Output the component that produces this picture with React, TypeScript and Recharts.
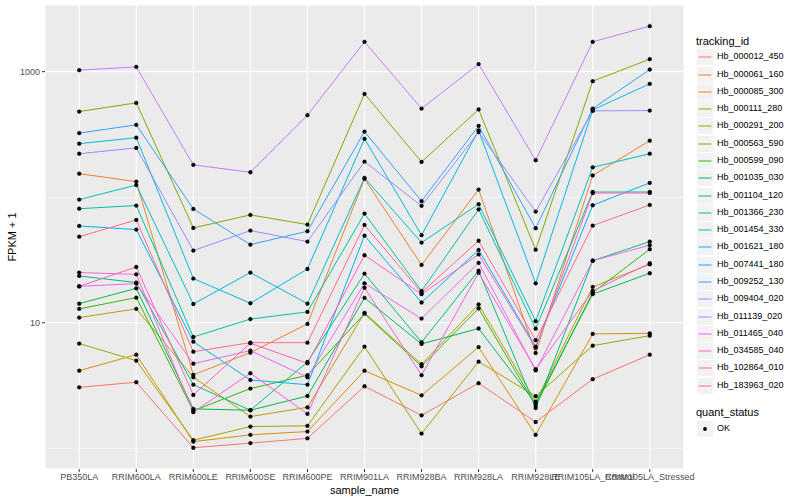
import { LineChart, Line, XAxis, YAxis, CartesianGrid, ReferenceLine } from 'recharts';

const samples = [
  'PB350LA', 'RRIM600LA', 'RRIM600LE', 'RRIM600SE', 'RRIM600PE', 'RRIM901LA',
  'RRIM928BA', 'RRIM928LA', 'RRIM928LE', 'RRIM105LA_Control', 'RRIM105LA_Stressed',
];

const trackingIds = [
  'Hb_000012_450', 'Hb_000061_160', 'Hb_000085_300', 'Hb_000111_280', 'Hb_000291_200',
  'Hb_000563_590', 'Hb_000599_090', 'Hb_001035_030', 'Hb_001104_120', 'Hb_001366_230',
  'Hb_001454_330', 'Hb_001621_180', 'Hb_007441_180', 'Hb_009252_130', 'Hb_009404_020',
  'Hb_011139_020', 'Hb_011465_040', 'Hb_034585_040', 'Hb_102864_010', 'Hb_183963_020',
];

const colors = [
  '#F8766D', '#EA8331', '#D89000', '#C09B00', '#A3A500', '#7CAE00', '#39B600', '#00BB4E',
  '#00BF7D', '#00C1A3', '#00BFC4', '#00BAE0', '#00B0F6', '#35A2FF', '#9590FF', '#C77CFF',
  '#E76BF3', '#FA62DB', '#FF62BC', '#FF6C91',
];

// FPKM + 1, one value per sample
const hb000012_450 = [3.06, 3.36, 1.01, 1.1, 1.2, 3.12, 1.83, 3.3, 1.62, 3.55, 5.57];
const hb000061_160 = [154, 133, 3.85, 5.78, 9.78, 140, 28.9, 115, 5.74, 149, 282];
const hb000085_300 = [4.15, 5.57, 1.13, 1.28, 1.36, 4.15, 2.64, 6.4, 1.28, 8.15, 8.24];
const hb000111_280 = [11.0, 12.9, 3.68, 1.79, 2.12, 12.0, 4.67, 14, 2.35, 19.3, 29.2];
const hb000291_200 = [6.83, 4.99, 1.16, 1.49, 1.51, 6.45, 1.31, 4.9, 2.6, 6.57, 7.89];
const hb000563_590 = [481, 564, 56.9, 72.3, 60.5, 665, 191, 500, 38.2, 840, 1258];
const hb000599_090 = [12.9, 15.85, 1.99, 2.99, 3.82, 11.8, 4.5, 13, 2.18, 17.4, 38.5];
const hb001035_030 = [14.2, 18.8, 2.06, 2.01, 2.61, 15.8, 6.78, 9, 2.28, 16.9, 24.8];
const hb001104_120 = [23.6, 20.9, 3.21, 2.01, 4.87, 24.6, 7.0, 26, 2.09, 31.2, 44.3];
const hb001366_230 = [81, 85.8, 7.7, 10.7, 12.2, 74, 17.9, 80, 8.97, 110, 110];
const hb001454_330 = [95.7, 125, 14.1, 25.1, 14.2, 142.5, 43.5, 88, 10.3, 173, 222];
const hb001621_180 = [267, 298, 22.5, 14.3, 26.8, 292, 49.8, 340, 20.6, 496, 800];
const hb007441_180 = [59, 55.2, 7.07, 3.5, 3.21, 49.4, 14.5, 38, 6.45, 86.3, 130];
const hb009252_130 = [324, 377, 80.7, 41.9, 53.6, 333, 93, 370, 56.6, 508, 1040];
const hb009404_020 = [222, 247, 37.6, 54.2, 44.3, 192, 85.3, 330, 76.8, 487, 490];
const hb011139_020 = [1028, 1092, 181, 158, 450, 1729, 508, 1150, 197, 1729, 2305];
const hb011465_040 = [19.5, 20.5, 4.72, 6.0, 3.68, 20.6, 10.8, 30, 4.17, 31.2, 41.5];
const hb034585_040 = [25.1, 24.3, 1.94, 3.96, 1.88, 19.0, 3.82, 25, 4.26, 17.9, 29.8];
const hb102864_010 = [19.5, 27.8, 2.66, 6.87, 4.75, 34.5, 16.9, 35, 6.31, 108, 108];
const hb183963_020 = [48.5, 65.9, 5.88, 6.94, 6.94, 60.1, 17.4, 45, 7.26, 59.4, 86.8];

const seriesValues = [
  hb000012_450, hb000061_160, hb000085_300, hb000111_280, hb000291_200,
  hb000563_590, hb000599_090, hb001035_030, hb001104_120, hb001366_230,
  hb001454_330, hb001621_180, hb007441_180, hb009252_130, hb009404_020,
  hb011139_020, hb011465_040, hb034585_040, hb102864_010, hb183963_020,
];

const yTicks = [10, 1000];
const yMinor = [1, 100];

const data = samples.map((name, i) => {
  const row: Record<string, number | string> = { idx: i, name };
  trackingIds.forEach((id, k) => { row[id] = seriesValues[k][i]; });
  return row;
});

const font = '"Liberation Sans", Arial, Helvetica, sans-serif';

const Legend = () => (
  <div style={{ position: 'absolute', left: 690, top: 0, fontFamily: font }}>
    <div style={{ position: 'absolute', left: 6, top: 35, fontSize: 11, whiteSpace: 'nowrap' }}>tracking_id</div>
    {trackingIds.map((id, k) => (
      <div key={id} style={{ position: 'absolute', left: 7, top: 49.3 + k * 17.28, height: 16, whiteSpace: 'nowrap' }}>
        <svg width={16} height={16} style={{ position: 'absolute', left: 0, top: 0 }}>
          <rect x={0} y={0} width={16} height={16} fill="#F2F2F2" />
          <line x1={1.5} y1={8} x2={14.5} y2={8} stroke={colors[k]} strokeWidth={1} />
        </svg>
        <span style={{ position: 'absolute', left: 20, top: 2, fontSize: 9, color: '#000' }}>{id}</span>
      </div>
    ))}
    <div style={{ position: 'absolute', left: 6, top: 406, fontSize: 11, whiteSpace: 'nowrap' }}>quant_status</div>
    <div style={{ position: 'absolute', left: 7, top: 421, height: 16, whiteSpace: 'nowrap' }}>
      <svg width={16} height={16} style={{ position: 'absolute', left: 0, top: 0 }}>
        <rect x={0} y={0} width={16} height={16} fill="#F2F2F2" />
        <circle cx={8} cy={8} r={1.9} fill="#000" />
      </svg>
      <span style={{ position: 'absolute', left: 20, top: 2, fontSize: 9 }}>OK</span>
    </div>
  </div>
);

export default function App() {
  return (
    <div style={{ position: 'absolute', left: 0, top: 0, width: 800, height: 500, background: '#fff', fontFamily: font }}>
      <LineChart width={800} height={500} data={data} margin={{ top: 5, right: 116, bottom: 0, left: 0 }}>
        <CartesianGrid fill="#EBEBEB" stroke="#FFFFFF" strokeWidth={1.1} />
        {yMinor.map((v) => (
          <ReferenceLine key={v} y={v} stroke="#FFFFFF" strokeWidth={0.55} />
        ))}
        <XAxis
          dataKey="idx"
          type="number"
          domain={[-0.6, samples.length - 0.4]}
          ticks={samples.map((_, i) => i)}
          tickFormatter={(v: number) => samples[v]}
          interval={0}
          height={31}
          axisLine={false}
          tickSize={3}
          tickMargin={2}
          tickLine={{ stroke: '#333333' }}
          tick={{ fontSize: 9, fill: '#4D4D4D', fontFamily: font }}
          label={{ value: 'sample_name', position: 'insideBottom', offset: 6, fontSize: 11, fill: '#000', fontFamily: font }}
        />
        <YAxis
          type="number"
          scale="log"
          domain={[0.684, 3396]}
          allowDataOverflow
          ticks={yTicks}
          width={45}
          axisLine={false}
          tickSize={3}
          tickMargin={2}
          tickLine={{ stroke: '#333333' }}
          tick={{ fontSize: 9, fill: '#4D4D4D', fontFamily: font }}
          label={{ value: 'FPKM + 1', angle: -90, position: 'insideLeft', offset: 12, fontSize: 11, fill: '#000', fontFamily: font, style: { textAnchor: 'middle' } }}
        />
        {trackingIds.map((id, k) => (
          <Line
            key={id}
            dataKey={id}
            type="linear"
            stroke={colors[k]}
            strokeWidth={1}
            dot={{ r: 1.9, fill: '#000', stroke: '#000', strokeWidth: 0.4 }}
            activeDot={false}
            isAnimationActive={false}
          />
        ))}
      </LineChart>
      <Legend />
    </div>
  );
}
